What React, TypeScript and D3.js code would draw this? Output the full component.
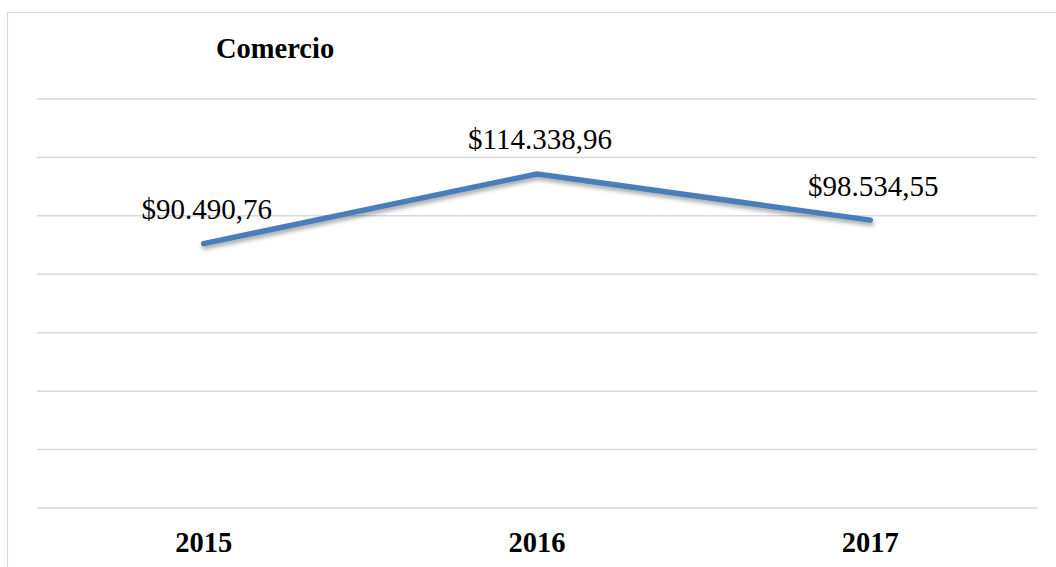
import React from "react";
import * as d3 from "d3";

const categories: string[] = ["2015", "2016", "2017"];
const values: number[] = [90490.76, 114338.96, 98534.55];
const valueLabels: string[] = ["$90.490,76", "$114.338,96", "$98.534,55"];
const yTicks: number[] = [0, 20000, 40000, 60000, 80000, 100000, 120000, 140000];
const title = "Comercio";
const FONT = "Liberation Serif";

export default function App() {
  const W = 1056;
  const H = 567;
  const left = 37;
  const right = 1037;
  const top = 99;
  const bottom = 508;

  const x = d3.scaleBand<string>().domain(categories).range([left, right]);
  const y = d3.scaleLinear().domain([0, 140000]).range([bottom, top]);
  const cx = (c: string) => (x(c) as number) + x.bandwidth() / 2;

  const line = d3
    .line<number>()
    .x((_, i) => cx(categories[i]))
    .y((d) => y(d));

  return (
    <svg
      width={W}
      height={H}
      style={{ position: "absolute", left: 0, top: 0 }}
    >
      <defs>
        <filter id="shadow" x="-10%" y="-50%" width="120%" height="200%">
          <feGaussianBlur in="SourceAlpha" stdDeviation="2" />
          <feOffset dx="1" dy="3" result="b" />
          <feComponentTransfer>
            <feFuncA type="linear" slope="0.35" />
          </feComponentTransfer>
          <feMerge>
            <feMergeNode />
            <feMergeNode in="SourceGraphic" />
          </feMerge>
        </filter>
      </defs>
      <rect x={7.5} y={12.5} width={1060} height={570} fill="none" stroke="#d9d9d9" strokeWidth={1.2} />
      <text x={216} y={58} style={{ fontFamily: `"${FONT}"` }} fontWeight="bold" fontSize={28.5}>
        {title}
      </text>
      {yTicks.map((t) => (
        <line
          key={t}
          x1={left}
          x2={right}
          y1={y(t)}
          y2={y(t)}
          stroke="#d9d9d9"
          strokeWidth={1.5}
        />
      ))}
      <path
        d={line(values) || ""}
        fill="none"
        stroke="#4a7ebb"
        strokeWidth={5.5}
        strokeLinecap="round"
        strokeLinejoin="round"
        filter="url(#shadow)"
      />
      {values.map((v, i) => (
        <text
          key={i}
          x={cx(categories[i]) + 3}
          y={y(v) - 24.5}
          textAnchor="middle"
          style={{ fontFamily: `"${FONT}"` }}
          fontSize={29}
        >
          {valueLabels[i]}
        </text>
      ))}
      {categories.map((c) => (
        <text
          key={c}
          x={cx(c)}
          y={552}
          textAnchor="middle"
          style={{ fontFamily: `"${FONT}"` }}
          fontWeight="bold"
          fontSize={28.5}
        >
          {c}
        </text>
      ))}
    </svg>
  );
}
